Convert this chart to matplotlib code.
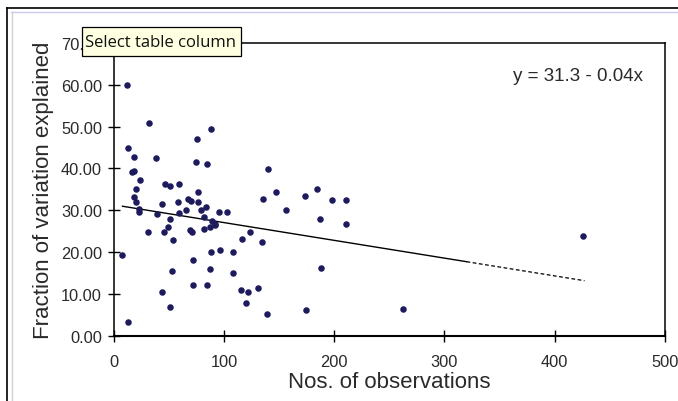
import matplotlib
matplotlib.use("Agg")
import matplotlib.pyplot as plt
from matplotlib.patches import Rectangle
from matplotlib.lines import Line2D
from matplotlib.transforms import Bbox
import numpy as np

# ---- data ----
obs_x = [12, 32, 88.6, 13.2, 75.6, 18.8, 38.0, 74.5, 84.8, 139.8,
         16.8, 18.8, 24.0, 46.3, 50.8, 59.1, 20.2, 76.6, 147.5, 184.6,
         18.7, 135.1, 173.1, 197.6, 210.4, 67.1, 70.5, 76.6, 58.0, 43.9,
         20.4, 84.1, 79.3, 65.9, 22.6, 22.9, 59.3, 95.6, 102.4, 156.3,
         39.0, 81.8, 51.0, 89.3, 186.9, 211.1, 91.6, 87.2, 91.8, 82.2,
         49.2, 30.9, 45.7, 69.1, 71.4, 123.5, 116.2, 54.2, 134.3, 7.3,
         88.3, 96.7, 108.3, 71.8, 53.1, 87.2, 108.3, 187.8, 71.8, 84.8,
         43.8, 115.3, 121.4, 130.9, 51.0, 119.8, 138.6, 174.2, 13.4, 262.0,
         425.5]
frac_y = [60.0, 50.8, 49.5, 45.0, 47.1, 42.8, 42.5, 41.6, 41.0, 39.8,
          39.2, 39.5, 37.3, 36.2, 35.8, 36.2, 35.2, 34.4, 34.4, 35.0,
          33.1, 32.8, 33.4, 32.5, 32.5, 32.8, 32.3, 31.9, 32.0, 31.6,
          31.9, 30.7, 30.1, 30.1, 30.2, 29.7, 29.4, 29.7, 29.7, 30.0,
          29.0, 28.5, 27.9, 27.5, 28.0, 26.7, 26.4, 25.9, 26.8, 25.5,
          26.1, 24.9, 24.9, 25.2, 24.9, 24.8, 23.1, 22.8, 22.4, 19.3,
          20.0, 20.5, 20.0, 18.1, 15.4, 16.0, 14.9, 16.1, 12.2, 12.2,
          10.5, 10.9, 10.5, 11.5, 6.9, 7.9, 5.3, 6.1, 3.3, 6.3,
          23.9]

fit_intercept = 31.3
fit_slope = -0.0425
fit_solid_range = [8, 320]
fit_dashed_range = [320, 427]

x_ticks = [0, 100, 200, 300, 400, 500]
y_ticks = [0, 10, 20, 30, 40, 50, 60, 70]
y_tick_labels = ["0.00", "10.00", "20.00", "30.00", "40.00", "50.00", "60.00", "70.00"]

equation_text = "y = 31.3 - 0.04x"
x_label = "Nos. of observations"
y_label = "Fraction of variation explained"
tooltip_text = "Select table column"

# ---- figure ----
W, H = 678, 402
fig = plt.figure(figsize=(W / 100, H / 100), dpi=100)
fig.patch.set_facecolor("white")
plt.rcParams["font.family"] = ["Liberation Sans", "DejaVu Sans"]

def fx(px):
    return px / W

def fy(py):
    return 1 - py / H

ax = fig.add_axes([fx(113.7), fy(336.7), fx(665) - fx(113.7), fy(44) - fy(336.7)])
ax.set_xlim(0, 500)
ax.set_ylim(0, 70)

ax.scatter(obs_x, frac_y, s=22, color="#1e1b5c", zorder=3, linewidths=0)

xs = np.array(fit_solid_range, dtype=float)
ax.plot(xs, fit_intercept + fit_slope * xs, color="black", lw=1.0, zorder=2)
xd = np.array(fit_dashed_range, dtype=float)
ax.plot(xd, fit_intercept + fit_slope * xd, color="black", lw=0.9,
        linestyle=(0, (3, 2)), zorder=2)

ax.set_xticks(x_ticks)
ax.set_xticklabels([str(t) for t in x_ticks])
ax.set_yticks(y_ticks)
ax.set_yticklabels(y_tick_labels)
ax.tick_params(axis="both", direction="inout", length=9, width=1.0,
               labelsize=11.8, colors="black", labelcolor="#2a2a2a")
ax.tick_params(axis="x", pad=9)
ax.tick_params(axis="y", pad=4)
for sp in ax.spines.values():
    sp.set_linewidth(1.1)
    sp.set_color("black")
ax.spines["bottom"].set_linewidth(1.5)

ax.set_xlabel(x_label, fontsize=16, color="#2a2a2a", labelpad=1)
ax.set_ylabel(y_label, fontsize=16, color="#2a2a2a", labelpad=5)

ax.text(0.96, 0.89, equation_text, transform=ax.transAxes, ha="right",
        va="center", fontsize=13.5, color="#2a2a2a")

# hide the part of the "70.00" label that sits under the tooltip
top_label = ax.yaxis.get_major_ticks()[-1].label1
top_label.set_clip_box(Bbox.from_extents(0, 0, 81.7, H))
top_label.set_clip_on(True)

# ---- window frame ----
fig.add_artist(Line2D([fx(7), 1], [fy(9), fy(9)], color="black", lw=1.2,
                      transform=fig.transFigure))
fig.add_artist(Line2D([fx(7), fx(7)], [fy(9), 0], color="black", lw=1.2,
                      transform=fig.transFigure))
fig.add_artist(Line2D([fx(11), 1], [fy(12.5), fy(12.5)], color="#c8c8f0", lw=1.0,
                      transform=fig.transFigure))
fig.add_artist(Line2D([fx(11.5), fx(11.5)], [fy(12.5), 0], color="#d0d0d0", lw=1.0,
                      transform=fig.transFigure))

# ---- tooltip ----
tip = Rectangle((fx(81.7), fy(57.3)), fx(240.7) - fx(81.7), fy(28.3) - fy(57.3),
                transform=fig.transFigure, facecolor="#ffffe1", edgecolor="black",
                lw=0.9, zorder=10)
fig.add_artist(tip)
fig.text(fx(85), fy(43), tooltip_text, fontsize=12, family=["Open Sans", "DejaVu Sans"],
         va="center", ha="left", color="#111111", zorder=11)

fig.savefig("out.png", dpi=100)
